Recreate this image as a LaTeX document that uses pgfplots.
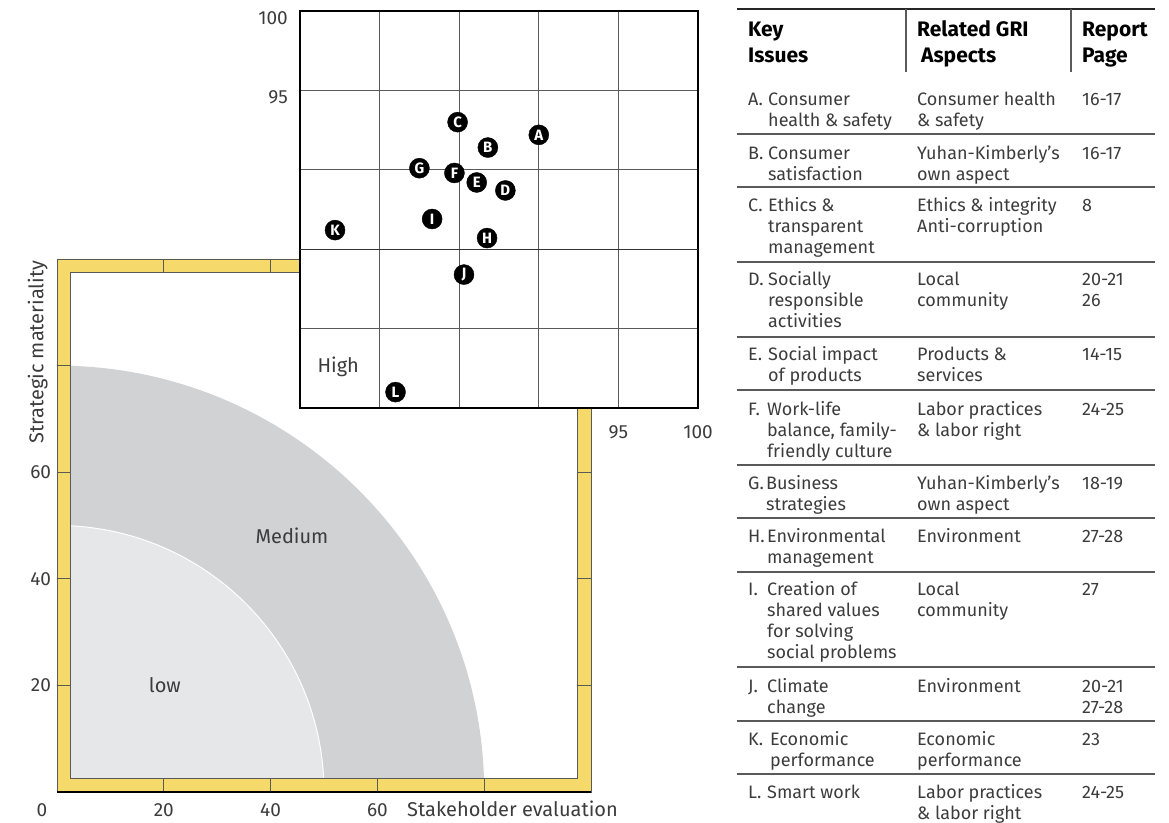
\documentclass[border=0pt]{standalone}
\usepackage{pgfplots}
\usepackage{pgfplotstable}
\pgfplotsset{compat=1.18}
\usepackage{fontspec}
\setmainfont{Fira Sans}

\definecolor{bandyellow}{HTML}{F5DA6B}
\definecolor{medgray}{HTML}{D1D2D4}
\definecolor{lowgray}{HTML}{E6E7E9}
\definecolor{txt}{HTML}{3C3C3C}
\definecolor{rule}{HTML}{5A5A5A}

% issue positions in the zoomed (high) square
\pgfplotstableread{
x     y     id
90.0  92.2  A
86.8  91.4  B
84.9  93.0  C
87.9  88.7  D
86.1  89.2  E
84.7  89.8  F
82.5  90.1  G
86.75 85.7  H
83.3  86.9  I
85.3  83.4  J
77.2  86.2  K
81.0  76.0  L
}\issues

\newcommand\tx[3]{\node[anchor=base west, inner sep=0pt, text=txt, font=\fontsize{18bp}{21bp}\selectfont] at (#1,#2) {#3};}
\newcommand\hd[3]{\node[anchor=base west, inner sep=0pt, font=\fontsize{21bp}{23bp}\selectfont\bfseries] at (#1,#2) {#3};}

\begin{document}
\begin{tikzpicture}[x=1bp, y=1bp, font=\fontsize{20bp}{22bp}\selectfont]
\useasboundingbox (0,0) rectangle (1169,823);

% ---- main matrix 0..100 ----
\begin{axis}[
  at={(57bp,31bp)}, anchor=south west,
  scale only axis, width=534bp, height=533bp,
  xmin=0, xmax=100, ymin=0, ymax=100,
  clip=false,
  axis line style={draw=none},
  xtick={20,40,60}, ytick={20,40,60},
  major tick length=0pt, tick style={draw=none},
  /pgf/number format/assume math mode=true,
  ticklabel style={text=txt, font=\fontsize{19bp}{21bp}\selectfont},
  xticklabel style={anchor=base, yshift=-24.5bp},
  yticklabel style={anchor=east, xshift=-2.5bp},
]
  \fill[bandyellow, even odd rule] (axis cs:0,0) rectangle (axis cs:100,100)
       (axis cs:2.5,2.5) rectangle (axis cs:97.5,97.5);
  \begin{scope}
    \clip (axis cs:2.5,2.5) rectangle (axis cs:97.5,97.5);
    \fill[medgray] (axis cs:0,0) circle[radius=80];
    \fill[lowgray, draw=white, line width=1bp] (axis cs:0,0) circle[radius=50];
  \end{scope}
  \pgfplotsinvokeforeach{20,40,60,80}{
    \draw[rule, line width=0.9bp] (axis cs:#1,0) -- (axis cs:#1,2.5);
    \draw[rule, line width=0.9bp] (axis cs:#1,97.5) -- (axis cs:#1,100);
    \draw[rule, line width=0.9bp] (axis cs:0,#1) -- (axis cs:2.5,#1);
    \draw[rule, line width=0.9bp] (axis cs:97.5,#1) -- (axis cs:100,#1);
  }
  \draw[rule, line width=0.9bp] (axis cs:0,0) rectangle (axis cs:100,100);
  \draw[rule, line width=0.9bp] (axis cs:2.5,2.5) rectangle (axis cs:97.5,97.5);
  \draw[black, line width=1.4bp] (axis cs:0,0) -- (axis cs:100,0);
  \node[text=txt] at (axis cs:44,48) {Medium};
  \node[text=txt] at (axis cs:20.2,20.1) {low};
  \node[text=txt, anchor=base, yshift=-24.5bp, font=\fontsize{19bp}{21bp}\selectfont] at (axis cs:-2.8,0) {0};
  \node[text=txt, anchor=base, yshift=-24.5bp] at (axis cs:85.3,0) {Stakeholder evaluation};
  \node[text=txt, rotate=90] at (axis cs:-3.6,82.5) {Strategic materiality};
\end{axis}

% ---- zoomed high square 75..100 ----
\begin{axis}[
  at={(300bp,415bp)}, anchor=south west,
  scale only axis, width=398bp, height=397bp,
  xmin=75, xmax=100, ymin=75, ymax=100,
  clip=false,
  axis background/.style={fill=white},
  axis line style={line width=2.8bp, black},
  grid=major, grid style={rule, line width=0.9bp},
  xtick={75,80,...,100}, ytick={75,80,...,100},
  xticklabels={,,,,95,100}, yticklabels={,,,,95,100},
  major tick length=0pt, tick style={draw=none},
  ticklabel style={text=txt, font=\fontsize{19bp}{21bp}\selectfont},
  xticklabel style={anchor=base, yshift=-30.5bp},
  yticklabel style={anchor=north east, xshift=-8.7bp, yshift=3.3bp},
]
  \draw[black!80, line width=1.2bp] (axis cs:75,85) -- (axis cs:100,85);
  \addplot[only marks, mark=*, mark size=10bp,
    mark options={fill=black, draw=black},
    point meta=explicit symbolic, nodes near coords,
    every node near coord/.append style={anchor=center, text=white, inner sep=0pt,
      font=\fontsize{15bp}{15bp}\selectfont\bfseries}]
    table[x=x, y=y, meta=id] {\issues};
  \node[text=txt] at (axis cs:77.4,77.6) {High};
\end{axis}

% ---- table ----
\begin{scope}[shift={(0,823)}, yscale=-1]
  \draw[black!85, line width=2bp] (737,9) -- (1155,9);
  \draw[rule, line width=1.2bp] (906,9) -- (906,72) (1071,9) -- (1071,72);
  \foreach \yy in {134,187,262,337,390,465,518,572,667,721,774}
    \draw[rule, line width=1.2bp] (737,\yy) -- (1155,\yy);

  \hd{748}{37}{Key}        \hd{748}{63}{Issues}
  \hd{917}{37}{Related GRI} \hd{921}{63}{Aspects}
  \hd{1082}{37}{Report}    \hd{1082}{63}{Page}

  \tx{748}{106}{A.} \tx{768}{106}{Consumer} \tx{768}{127}{health \& safety}
  \tx{917}{106}{Consumer health} \tx{917}{127}{\& safety} \tx{1082}{106}{16-17}

  \tx{748}{160}{B.} \tx{768}{160}{Consumer} \tx{768}{181}{satisfaction}
  \tx{917}{160}{Yuhan-Kimberly’s} \tx{917}{181}{own aspect} \tx{1082}{160}{16-17}

  \tx{748}{212}{C.} \tx{768}{212}{Ethics \&} \tx{768}{233}{transparent} \tx{768}{254}{management}
  \tx{917}{212}{Ethics \& integrity} \tx{917}{233}{Anti-corruption} \tx{1082}{212}{8}

  \tx{748}{286}{D.} \tx{768}{286}{Socially} \tx{768}{307}{responsible} \tx{768}{328}{activities}
  \tx{917}{286}{Local} \tx{917}{307}{community} \tx{1082}{286}{20-21} \tx{1082}{307}{26}

  \tx{748}{361}{E.} \tx{768}{361}{Social impact} \tx{768}{382}{of products}
  \tx{917}{361}{Products \&} \tx{917}{382}{services} \tx{1082}{361}{14-15}

  \tx{748}{416}{F.} \tx{767}{416}{Work-life} \tx{767}{437}{balance, family-} \tx{767}{458}{friendly culture}
  \tx{917}{416}{Labor practices} \tx{917}{437}{\& labor right} \tx{1082}{416}{24-25}

  \tx{748}{490}{G.} \tx{766}{490}{Business} \tx{766}{511}{strategies}
  \tx{917}{490}{Yuhan-Kimberly’s} \tx{917}{511}{own aspect} \tx{1082}{490}{18-19}

  \tx{748}{543}{H.} \tx{767}{543}{Environmental} \tx{767}{564}{management}
  \tx{917}{543}{Environment} \tx{1082}{543}{27-28}

  \tx{748}{596}{I.} \tx{767}{596}{Creation of} \tx{767}{617}{shared values} \tx{767}{638}{for solving} \tx{767}{659}{social problems}
  \tx{917}{596}{Local} \tx{917}{617}{community} \tx{1082}{596}{27}

  \tx{748}{693}{J.} \tx{767}{693}{Climate} \tx{767}{714}{change}
  \tx{917}{693}{Environment} \tx{1082}{693}{20-21} \tx{1082}{714}{27-28}

  \tx{748}{746}{K.} \tx{770}{746}{Economic} \tx{770}{767}{performance}
  \tx{917}{746}{Economic} \tx{917}{767}{performance} \tx{1082}{746}{23}

  \tx{748}{799}{L.} \tx{767}{799}{Smart work}
  \tx{917}{799}{Labor practices} \tx{917}{820}{\& labor right} \tx{1082}{799}{24-25}
\end{scope}
\end{tikzpicture}
\end{document}
